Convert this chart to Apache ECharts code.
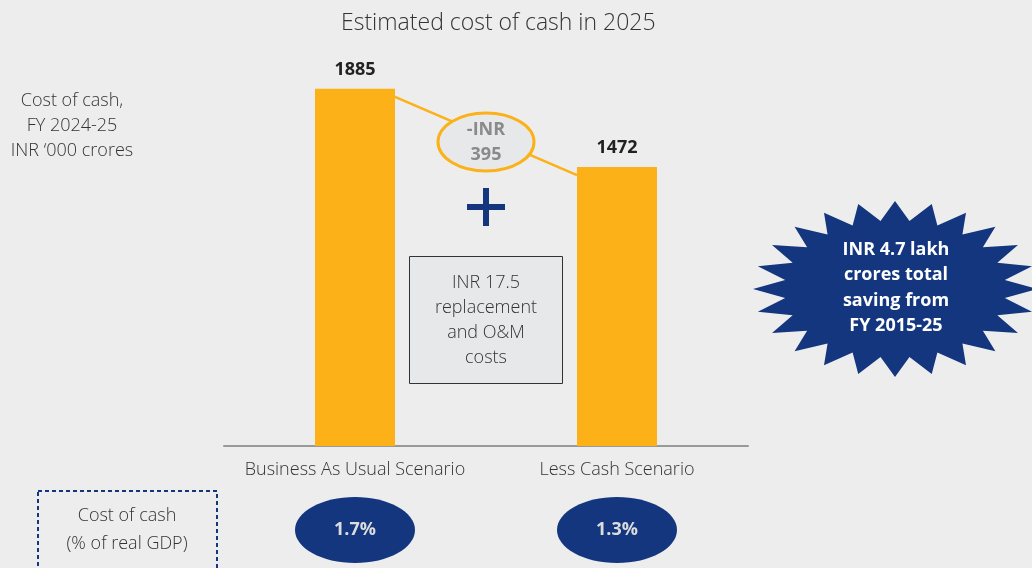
<!DOCTYPE html>
<html>
<head>
    <meta charset="utf-8">
    <title>Estimated cost of cash in 2025</title>
    <script src="https://cdn.jsdelivr.net/npm/echarts@6/dist/echarts.min.js"></script>
    <style>
        html, body { margin: 0; padding: 0; background: #ededed; }
        #main { width: 1032px; height: 568px; }
    </style>
</head>
<body>
<div id="main"></div>
<script>
    // data
    var scenarios = ['Business As Usual Scenario', 'Less Cash Scenario'];
    var costOfCash = [1885, 1472];          // INR '000 crores, FY 2024-25
    var gdpShare = ['1.7%', '1.3%'];        // cost of cash, % of real GDP
    var saving = 'INR\n395';
    var extraCost = 'INR 17.5\nreplacement\nand O&M\ncosts';
    var burstText = 'INR 4.7 lakh\ncrores total\nsaving from\nFY 2015-25';

    var FONT = '"Open Sans", "Noto Sans", sans-serif';
    var BLUE = '#13367f';
    var ORANGE = '#fbb117';

    var myChart = echarts.init(document.getElementById('main'));

    var option = {
        backgroundColor: '#ededed',
        animation: false,
        title: {
            text: 'Estimated cost of cash in 2025',
            left: 336,
            top: 7,
            textStyle: { fontFamily: FONT, fontSize: 23, fontWeight: 300, color: '#333' }
        },
        grid: { left: 224, right: 284, top: 67, bottom: 122 },
        xAxis: {
            type: 'category',
            data: scenarios,
            axisLine: { lineStyle: { color: '#999', width: 2 } },
            axisTick: { show: false },
            axisLabel: { interval: 0, margin: 15, fontFamily: FONT, fontSize: 18, fontWeight: 300, color: '#333' }
        },
        yAxis: {
            type: 'value',
            min: 0,
            max: 2000,
            show: false,
            splitLine: { show: false }
        },
        series: [{
            type: 'bar',
            data: costOfCash,
            barWidth: 80,
            itemStyle: { color: ORANGE },
            z: 3,
            label: {
                show: true,
                position: 'top',
                distance: 10,
                fontFamily: FONT,
                fontSize: 18,
                fontWeight: 'bold',
                color: '#222'
            }
        }]
    };
    myChart.setOption(option);

    // star shape for the saving badge
    function burst(cx, cy, rx, ry, n) {
        var pts = [];
        for (var i = 0; i < n * 2; i++) {
            var a = Math.PI * i / n - Math.PI / 2;
            var k = i % 2 === 0 ? 1 : 0.78;
            pts.push([cx + rx * k * Math.cos(a), cy + ry * k * Math.sin(a)]);
        }
        return pts;
    }

    function drawExtras() {
        var p1 = myChart.convertToPixel({ seriesIndex: 0 }, [0, costOfCash[0]]);
        var p2 = myChart.convertToPixel({ seriesIndex: 0 }, [1, costOfCash[1]]);
        var a = [p1[0] + 40, p1[1] + 8];
        var b = [p2[0] - 40, p2[1] + 8];
        var mx = (a[0] + b[0]) / 2;
        var my = (a[1] + b[1]) / 2 + 6;
        var gy = 530;

        var els = [
            { type: 'line', z: 10, shape: { x1: a[0], y1: a[1], x2: b[0], y2: b[1] },
              style: { stroke: ORANGE, lineWidth: 2.5 } },
            { type: 'ellipse', z: 11, shape: { cx: mx, cy: my, rx: 48, ry: 29 },
              style: { fill: '#e7e8ea', stroke: ORANGE, lineWidth: 3 } },
            { type: 'text', z: 12, x: mx, y: my,
              style: { text: '-' + saving, align: 'center', verticalAlign: 'middle', lineHeight: 25,
                       fontFamily: FONT, fontSize: 18, fontWeight: 'bold', fill: '#8a8a8a' } },
            // plus sign
            { type: 'rect', z: 10, shape: { x: mx - 19, y: 204, width: 38, height: 6 }, style: { fill: BLUE } },
            { type: 'rect', z: 10, shape: { x: mx - 3, y: 188, width: 6, height: 38 }, style: { fill: BLUE } },
            // replacement cost box
            { type: 'rect', z: 10, shape: { x: 409.5, y: 256.5, width: 153, height: 127 },
              style: { fill: '#e7e8ea', stroke: '#333', lineWidth: 1 } },
            { type: 'text', z: 11, x: 486, y: 320,
              style: { text: extraCost, align: 'center', verticalAlign: 'middle', lineHeight: 25,
                       fontFamily: FONT, fontSize: 18, fontWeight: 300, fill: '#333' } },
            // left axis caption
            { type: 'text', z: 10, x: 72, y: 126,
              style: { text: 'Cost of cash,\nFY 2024-25\nINR \u2018000 crores', align: 'center', verticalAlign: 'middle',
                       lineHeight: 25, fontFamily: FONT, fontSize: 18, fontWeight: 300, fill: '#333' } },
            // starburst
            { type: 'polygon', z: 10, shape: { points: burst(895, 289, 142, 88, 24) }, style: { fill: BLUE } },
            { type: 'text', z: 11, x: 896, y: 288,
              style: { text: burstText, align: 'center', verticalAlign: 'middle', lineHeight: 25.5,
                       fontFamily: FONT, fontSize: 18, fontWeight: 'bold', fill: '#fff' } },
            // bottom GDP row
            { type: 'rect', z: 10, shape: { x: 38, y: 491, width: 179, height: 100 },
              style: { fill: 'none', stroke: BLUE, lineWidth: 2, lineDash: [4, 3] } },
            { type: 'text', z: 11, x: 127, y: 530,
              style: { text: 'Cost of cash\n(% of real GDP)', align: 'center', verticalAlign: 'middle', lineHeight: 28,
                       fontFamily: FONT, fontSize: 18, fontWeight: 300, fill: '#333' } }
        ];
        for (var i = 0; i < gdpShare.length; i++) {
            var cx = myChart.convertToPixel({ xAxisIndex: 0 }, scenarios[i]);
            els.push({ type: 'ellipse', z: 10, shape: { cx: cx, cy: gy, rx: 60, ry: 33 }, style: { fill: BLUE } });
            els.push({ type: 'text', z: 11, x: cx, y: gy,
                       style: { text: gdpShare[i], align: 'center', verticalAlign: 'middle',
                                fontFamily: FONT, fontSize: 18, fontWeight: 'bold', fill: '#dcdcdc' } });
        }
        myChart.setOption({ graphic: els });
    }
    drawExtras();
</script>
</body>
</html>
